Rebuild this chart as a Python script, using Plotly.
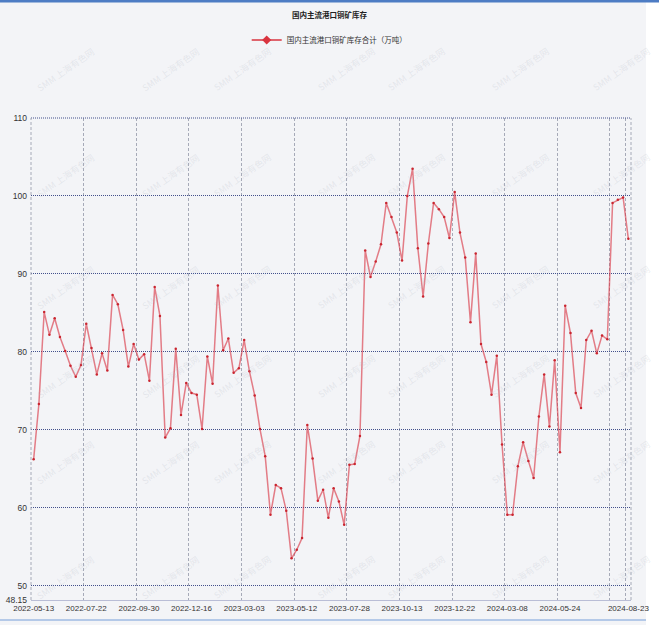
import pandas as pd
import plotly.graph_objects as go

# ---------------- data ----------------
title_text = "国内主流港口铜矿库存"
series_name = "国内主流港口铜矿库存合计（万吨）"

start_date = "2022-05-13"
end_date = "2024-08-23"
skipped_weeks = ["2022-10-07", "2023-01-27", "2023-06-23", "2023-10-06", "2024-02-16", "2024-05-03"]
dates = [d.strftime("%Y-%m-%d") for d in pd.date_range(start_date, end_date, freq="7D")
         if d.strftime("%Y-%m-%d") not in skipped_weeks]

values = [
    66.2, 73.3, 85.1, 82.2, 84.3, 81.9, 80.1, 78.2, 76.8, 78.3,
    83.6, 80.5, 77.1, 79.8, 77.6, 87.3, 86.1, 82.8, 78.1, 81.0,
    79.0, 79.7, 76.3, 88.3, 84.6, 69.0, 70.2, 80.4, 71.9, 76.0,
    74.7, 74.5, 70.1, 79.4, 75.9, 88.5, 80.2, 81.7, 77.3, 77.9,
    81.5, 77.5, 74.4, 70.1, 66.6, 59.1, 62.9, 62.5, 59.6, 53.5,
    54.6, 56.1, 70.6, 66.3, 60.9, 62.3, 58.7, 62.5, 60.8, 57.8,
    65.5, 65.6, 69.2, 93.0, 89.6, 91.6, 93.8, 99.1, 97.3, 95.3,
    91.7, 100.0, 103.5, 93.3, 87.1, 93.9, 99.1, 98.3, 97.3, 94.6,
    100.5, 95.3, 92.1, 83.8, 92.6, 81.0, 78.7, 74.5, 79.5, 68.1,
    59.1, 59.1, 65.3, 68.4, 66.0, 63.8, 71.7, 77.1, 70.4, 78.9,
    67.1, 85.9, 82.4, 74.7, 72.8, 81.5, 82.7, 79.8, 82.1, 81.6,
    99.1, 99.5, 99.8, 94.5,
]

x_tick_vals = ["2022-05-13", "2022-07-22", "2022-09-30", "2022-12-16", "2023-03-03",
               "2023-05-12", "2023-07-28", "2023-10-13", "2023-12-22", "2024-03-08",
               "2024-05-24", "2024-08-02", "2024-08-23"]
x_tick_text = ["2022-05-13", "2022-07-22", "2022-09-30", "2022-12-16", "2023-03-03",
               "2023-05-12", "2023-07-28", "2023-10-13", "2023-12-22", "2024-03-08",
               "2024-05-24", "", "2024-08-23"]
y_tick_vals = [48.15, 50, 60, 70, 80, 90, 100, 110]
y_tick_text = ["48.15", "50", "60", "70", "80", "90", "100", "110"]
y_min, y_max = 48.15, 110

watermark = "SMM 上海有色网"

# ---------------- figure ----------------
W, H = 659, 625
ML, MR, MT, MB = 31, 28, 118, 25
PW, PH = W - ML - MR, H - MT - MB


def px2x(px):
    return (px - ML) / PW


def px2y(py):
    return (H - MB - py) / PH


bg = "#f3f4f7"
sans = "Liberation Sans, Arial, sans-serif"
cjk = "Noto Sans CJK SC, sans-serif"
vgrid = "#a6aab8"
hgrid = "#42508c"

fig = go.Figure()
fig.add_trace(go.Scatter(
    x=dates, y=values, mode="lines+markers", name=series_name, showlegend=False,
    line=dict(color="rgba(216,50,64,0.62)", width=1.5),
    marker=dict(color="#c9252f", size=2.5),
    hoverinfo="x+y",
))
# legend entry (larger symbol, as in the original legend)
fig.add_trace(go.Scatter(
    x=[None], y=[None], mode="lines+markers", name=series_name,
    line=dict(color="#d9343f", width=1.5),
    marker=dict(color="#d9343f", size=7, symbol="diamond"),
))

annotations = []
cols = [32, 137, 242, 346, 450, 554, 655]
rows = [42, 148, 260, 376, 490, 605]
for ry in rows:
    for cx in cols:
        annotations.append(dict(
            x=px2x(cx), y=px2y(ry), xref="paper", yref="paper", text=watermark,
            showarrow=False, textangle=-35,
            font=dict(family=cjk, size=9, color="rgba(170,176,188,0.22)"),
        ))

shapes = [
    dict(type="rect", xref="paper", yref="paper", x0=px2x(646), x1=px2x(660),
         y0=px2y(-2), y1=px2y(626), fillcolor="white", line=dict(width=0), layer="below"),
    dict(type="rect", xref="paper", yref="paper", x0=px2x(-2), x1=px2x(660),
         y0=px2y(0), y1=px2y(2.5), fillcolor="#4d7cc4", line=dict(width=0)),
    dict(type="line", xref="paper", yref="paper", x0=px2x(0), x1=px2x(646),
         y0=px2y(620), y1=px2y(620), line=dict(color="#9fbbe3", width=1.5)),
    # plot frame edges (top gridline and the left / right boundary lines)
    dict(type="line", xref="paper", yref="paper", x0=0, x1=1, y0=1, y1=1,
         line=dict(color=hgrid, width=1, dash="1px,1px")),
    dict(type="line", xref="paper", yref="paper", x0=0, x1=0, y0=0, y1=1,
         line=dict(color=vgrid, width=1, dash="3px,2px")),
    dict(type="line", xref="paper", yref="paper", x0=1, x1=1, y0=0, y1=1,
         line=dict(color=vgrid, width=1, dash="3px,2px")),
]

fig.update_layout(
    width=W, height=H,
    margin=dict(l=ML, r=MR, t=MT, b=MB, pad=0, autoexpand=False),
    paper_bgcolor=bg, plot_bgcolor=bg,
    title=dict(text="<b>" + title_text + "</b>", x=0.5, xanchor="center",
               y=1 - 15 / H, yanchor="middle",
               font=dict(family=cjk, size=7.5, color="#222")),
    legend=dict(orientation="h", x=0.497, xanchor="center", y=px2y(40), yanchor="middle",
                font=dict(family=cjk, size=7.5, color="#333"), bgcolor="rgba(0,0,0,0)",
                itemwidth=30),
    showlegend=True,
    annotations=annotations,
    shapes=shapes,
    xaxis=dict(
        type="category", categoryorder="array", categoryarray=dates,
        range=[-0.5, len(dates) - 0.5],
        tickmode="array", tickvals=x_tick_vals, ticktext=x_tick_text,
        tickson="boundaries", ticks="", tickangle=0, automargin=False,
        showgrid=True, gridcolor=vgrid, gridwidth=1, griddash="3px,2px",
        showline=True, linecolor="#b9bdd6", linewidth=1.2,
        tickfont=dict(family=sans, size=8, color="#333"),
        zeroline=False, fixedrange=True,
    ),
    yaxis=dict(
        range=[y_min, y_max], automargin=False,
        tickmode="array", tickvals=y_tick_vals, ticktext=y_tick_text,
        ticks="", showgrid=True, gridcolor=hgrid, gridwidth=1, griddash="1px,1px",
        showline=False, zeroline=False,
        tickfont=dict(family=sans, size=8.5, color="#333"),
        ticklabelstandoff=3, fixedrange=True,
    ),
)

fig.write_html("out.html", config={"displayModeBar": False},
               post_script="document.body.style.margin='0';")
